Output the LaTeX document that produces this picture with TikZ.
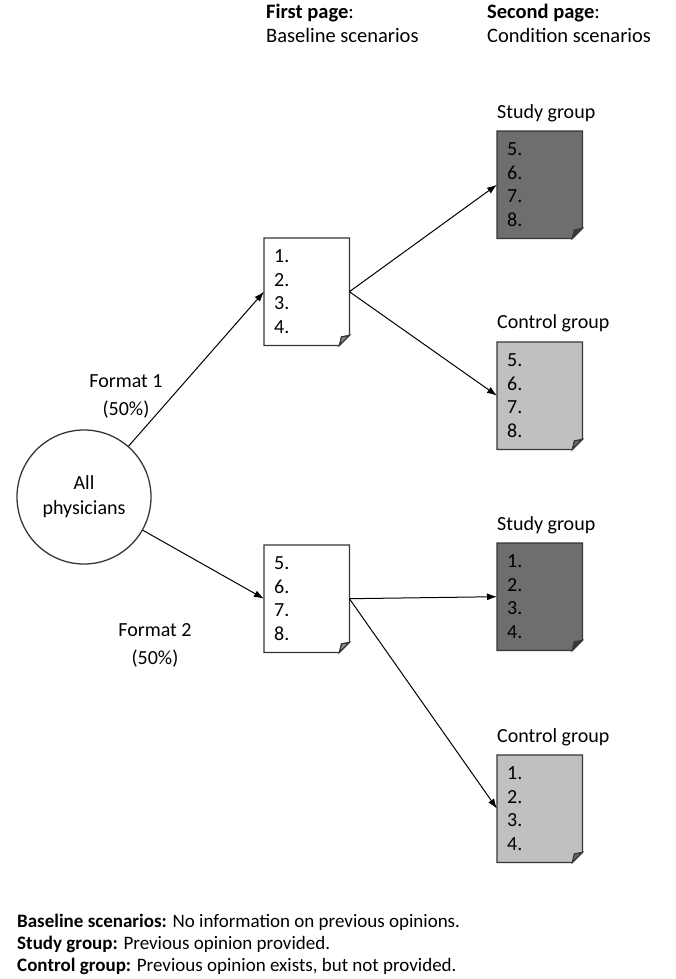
\documentclass[tikz,border=0pt]{standalone}
\usepackage{fontspec}
\setmainfont{Carlito}
\usetikzlibrary{arrows.meta,backgrounds}

\definecolor{edge}{HTML}{363636}
\definecolor{studyfill}{HTML}{6E6E6E}
\definecolor{controlfill}{HTML}{C0C0C0}

\newlength{\foldsize}
\setlength{\foldsize}{10pt}

% page outline with a folded bottom-right corner, drawn behind node #1
\newcommand{\foldpage}[2]{%
  \begin{pgfonlayer}{background}
    \filldraw[pageline, fill=#2]
      (#1.north west) -- (#1.north east) -- ([yshift=\foldsize]#1.south east)
      -- ([xshift=-\foldsize]#1.south east) -- (#1.south west) -- cycle;
    \filldraw[pageline, fill=#2!55!black]
      ([yshift=\foldsize]#1.south east) -- ([xshift=-\foldsize]#1.south east)
      -- ([xshift=-0.8\foldsize, yshift=0.85\foldsize]#1.south east) -- cycle;
  \end{pgfonlayer}}

\begin{document}
\begin{tikzpicture}[x=1pt, y=-1pt,
  txt/.style={font=\fontsize{20}{24}\selectfont, inner sep=0pt},
  headtxt/.style={font=\fontsize{20.5}{24}\selectfont, inner sep=0pt},
  keytxt/.style={font=\fontsize{19}{23}\selectfont, inner sep=0pt},
  pagebox/.style={font=\fontsize{20}{23.5}\selectfont, draw=none,
    minimum width=85pt, minimum height=107pt, text width=65pt,
    inner xsep=10pt, inner ysep=0pt, align=left, anchor=north west},
  pageline/.style={draw=edge, line width=1.3pt, line join=miter},
  arr/.style={draw=black, line width=1pt, -{Latex[length=10pt, width=7pt]}}]

\useasboundingbox (0,0) rectangle (675,979);

% column headings
\node[headtxt, anchor=west] (h1) at (266,13) {\textbf{First page}:};
\node[headtxt, anchor=west] (h1b) at (266,35) {Baseline scenarios};
\node[headtxt, anchor=west] (h2) at (487,13) {\textbf{Second page}:};
\node[headtxt, anchor=west] (h2b) at (487,35) {Condition scenarios};

% population
\node[circle, draw=edge, line width=1.3pt, minimum size=134pt, txt,
  align=center] (all) at (84,497) {All\\[1pt]physicians};

% first-page scenario sheets
\node[pagebox] (b1) at (264,238) {1.\\2.\\3.\\4.};
\foldpage{b1}{white}
\node[pagebox] (b2) at (264,545) {5.\\6.\\7.\\8.};
\foldpage{b2}{white}

% second-page scenario sheets
\node[pagebox] (s1) at (497,131) {5.\\6.\\7.\\8.};
\foldpage{s1}{studyfill}
\node[pagebox] (c1) at (497,342) {5.\\6.\\7.\\8.};
\foldpage{c1}{controlfill}
\node[pagebox] (s2) at (497,543) {1.\\2.\\3.\\4.};
\foldpage{s2}{studyfill}
\node[pagebox] (c2) at (497,755) {1.\\2.\\3.\\4.};
\foldpage{c2}{controlfill}

% group labels
\node[txt, anchor=west] (ls1) at (497,113) {Study group};
\node[txt, anchor=west] (lc1) at (497,323) {Control group};
\node[txt, anchor=west] (ls2) at (497,525) {Study group};
\node[txt, anchor=west] (lc2) at (497,737) {Control group};

% format labels
\node[txt, align=center] (f1) at (126,396) {Format 1\\[4pt](50\%)};
\node[txt, align=center] (f2) at (155,645) {Format 2\\[4pt](50\%)};

% connectors
\draw[arr] (all) -- (b1.west);
\draw[arr] (all) -- (b2.west);
\draw[arr] (b1.east) -- (s1.west);
\draw[arr] (b1.east) -- (c1.west);
\draw[arr] (b2.east) -- (s2.west);
\draw[arr] (b2.east) -- (c2.west);

% legend
\node[keytxt, anchor=west] (k1) at (17,922) {\textbf{Baseline scenarios:} No information on previous opinions.};
\node[keytxt, anchor=west] (k2) at (17,944) {\textbf{Study group:} Previous opinion provided.};
\node[keytxt, anchor=west] (k3) at (17,966) {\textbf{Control group:} Previous opinion exists, but not provided.};
\end{tikzpicture}
\end{document}
